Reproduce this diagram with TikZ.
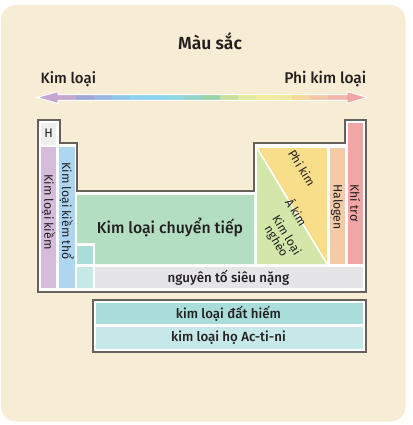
\documentclass[tikz,border=0pt]{standalone}
\usepackage{fontspec}
\setmainfont{Fira Sans}
\newfontfamily\fmed{Fira Sans Medium}
\newfontfamily\fsemi{Fira Sans SemiBold}
\usetikzlibrary{calc}
\definecolor{bgc}{HTML}{F7EDD4}
\definecolor{linec}{HTML}{66615C}
\definecolor{txt}{HTML}{231F20}
\definecolor{cH}{HTML}{EFEFEF}
\definecolor{cKiem}{HTML}{D5BCDC}
\definecolor{cKiemTho}{HTML}{AED6F1}
\definecolor{cCT}{HTML}{B3DEC1}
\definecolor{cTeal}{HTML}{A9DDD9}
\definecolor{cLTeal}{HTML}{C6E8E8}
\definecolor{cGray}{HTML}{E5E5E8}
\definecolor{cLGreen}{HTML}{D3E7AA}
\definecolor{cYellow}{HTML}{F8DE8A}
\definecolor{cHalo}{HTML}{F5CBA7}
\definecolor{cTro}{HTML}{F1A6A6}
\definecolor{aStart}{HTML}{C4A6CF}
\definecolor{aEnd}{HTML}{F2A5A5}
\tikzset{
  outl/.style={draw=linec, line width=2pt, fill=white, line join=miter},
  lbl/.style={text=txt, inner sep=0pt, font=\fmed\fontsize{13.3}{14}\selectfont},
  vlbl/.style={text=txt, inner sep=0pt, rotate=-90, font=\fontsize{12.2}{13}\selectfont},
  dlbl/.style={text=txt, inner sep=0pt, rotate=-59, align=center, font=\fontsize{12}{12}\selectfont},
}
\begin{document}
\begin{tikzpicture}[x=1pt,y=-1pt]
\useasboundingbox (0,0) rectangle (412,425);
\fill[bgc, rounded corners=15pt] (1,5) rectangle (405.5,421.5);

% title
\node[text=txt, inner sep=0pt, font=\fsemi\fontsize{17.5}{18}\selectfont] (title) at (210,41) {Màu sắc};
\node[text=txt, inner sep=0pt, anchor=west, font=\fmed\fontsize{15}{16}\selectfont] (kl) at (40.5,79) {Kim loại};
\node[text=txt, inner sep=0pt, anchor=east, font=\fmed\fontsize{15.5}{16}\selectfont] (pkl) at (366.5,79) {Phi kim loại};

% gradient arrow
\begin{scope}
\path[clip] (37,97.5) -- (58,91.5) -- (58,94.7) -- (347,94.7) -- (347,91.5) -- (367,97.5) -- (347,103.5) -- (347,100.3) -- (58,100.3) -- (58,103.5) -- cycle;
\fill[aStart] (36,90) rectangle (76,105);
\foreach \xa/\xb/\c in {76/94/9DA6D6, 94/112/9BB9E0, 112/130/8EC8EC, 130/166/8CD3F0, 166/184/8ED8E0, 184/202/92D4C8, 202/220/9BD2A8, 220/238/C9E0A0, 238/256/E3EAA5, 256/274/F3EBA0, 274/292/F2E8A4, 292/310/F5D8A0, 310/328/F4C7A8, 328/347/F3B6AC}{
  \definecolor{tmpc}{HTML}{\c}
  \fill[tmpc] (\xa,90) rectangle (\xb+0.3,105);
}
\fill[aEnd] (347,90) rectangle (368,105);
\end{scope}
\draw[white, line width=1pt, line join=miter] (37,97.5) -- (58,91.5) -- (58,94.7) -- (347,94.7) -- (347,91.5) -- (367,97.5) -- (347,103.5) -- (347,100.3) -- (58,100.3) -- (58,103.5) -- cycle;

% main table outline
\draw[outl] (37.5,120) -- (59.5,120) -- (59.5,143) -- (77,143) -- (77,191) -- (254,191) -- (254,143) -- (345,143) -- (345,120) -- (366,120) -- (366,292) -- (37.5,292) -- cycle;

% cells
\fill[cH] (41,122.5) rectangle (56,144.5);
\fill[cKiem] (41,147) rectangle (56,288);
\fill[cKiemTho] (59,147) rectangle (74.5,288);
\fill[cCT] (77,195) -- (254,195) -- (254,264) -- (95,264) -- (95,243) -- (77,243) -- cycle;
\fill[cTeal] (77,245.5) rectangle (92.5,264);
\fill[cLTeal] (77,267) rectangle (92.5,288);
\fill[cGray] (95,267) rectangle (363,288);
\fill[cLGreen] (257,148) -- (327,264) -- (257,264) -- cycle;
\fill[cYellow] (257,148) -- (327,148) -- (327,264) -- cycle;
\draw[white, line width=1.5pt] (257,148) -- (327,264);
\fill[cHalo] (329.5,148) rectangle (344.5,264);
\fill[cTro] (347.5,123) rectangle (363,264);

% labels
\node[text=txt, inner sep=0pt, font=\fontsize{12.5}{12}\selectfont] (h) at (48.5,133.5) {H};
\node[vlbl] (kiem) at (48.5,212) {Kim loại kiềm};
\node[vlbl] (kiemtho) at (66.8,211) {Kim loại kiềm thổ};
\node[text=txt, inner sep=0pt, font=\fmed\fontsize{15.8}{16}\selectfont] (ct) at (170,228) {Kim loại chuyển tiếp};
\node[lbl] (sn) at (228.5,278) {nguyên tố siêu nặng};
\node[dlbl] (pk) at (302,168) {Phi kim};
\node[dlbl] (ak) at (297,212) {Á kim};
\node[dlbl] (kln) at (281,238.5) {Kim loại\\nghèo};
\node[vlbl] (halo) at (337,207) {Halogen};
\node[vlbl] (tro) at (355.3,203) {Khí trơ};

% bottom table
\draw[outl] (92.5,300) rectangle (366,352);
\fill[cTeal] (95.5,303.3) rectangle (363,324.3);
\fill[cLTeal] (95.5,326.7) rectangle (363,349);
\node[lbl] (dh) at (228.5,314) {kim loại đất hiếm};
\node[lbl] (ac) at (228.5,338) {kim loại họ Ac-ti-ni};
\end{tikzpicture}
\end{document}
